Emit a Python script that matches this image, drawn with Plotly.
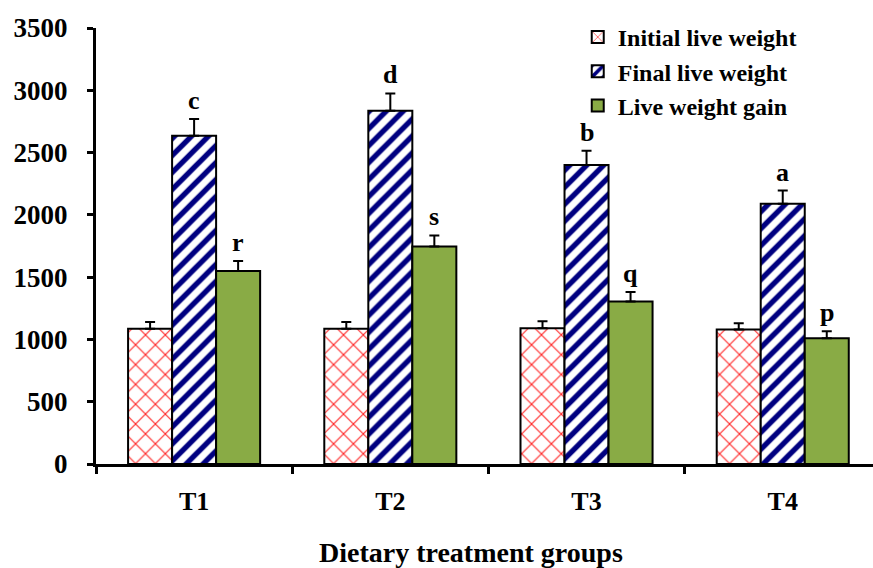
import plotly.graph_objects as go

groups = ["T1", "T2", "T3", "T4"]
initial = [1085, 1085, 1090, 1080]
initial_err = [55, 55, 55, 50]
final = [2635, 2835, 2400, 2090]
final_err = [135, 140, 115, 105]
gain = [1550, 1745, 1305, 1010]
gain_err = [80, 90, 75, 55]
final_letters = ["c", "d", "b", "a"]
gain_letters = ["r", "s", "q", "p"]

FONT = "Liberation Serif"

fig = go.Figure()

def err(vals):
    return dict(type="data", symmetric=False, array=vals, arrayminus=[0]*len(vals),
                color="black", thickness=2, width=5)

fig.add_trace(go.Bar(
    name="<b>Initial live weight</b>", x=groups, y=initial, error_y=err(initial_err),
    marker=dict(color="white", line=dict(color="black", width=2),
                pattern=dict(shape="x", fgcolor="#ff2020", bgcolor="white", size=14,
                             solidity=0.15, fgopacity=1, fillmode="replace")),
))
fig.add_trace(go.Bar(
    name="<b>Final live weight</b>", x=groups, y=final, error_y=err(final_err),
    marker=dict(color="white", line=dict(color="black", width=2),
                pattern=dict(shape="/", fgcolor="#000080", bgcolor="white", size=12,
                             solidity=0.45, fgopacity=1, fillmode="replace")),
))
fig.add_trace(go.Bar(
    name="<b>Live weight gain</b>", x=groups, y=gain, error_y=err(gain_err),
    marker=dict(color="#89ab45", line=dict(color="black", width=2)),
))

# significance letters
for g, v, e, t in zip(groups, final, final_err, final_letters):
    fig.add_annotation(x=g, y=v + e, text="<b>%s</b>" % t, showarrow=False,
                       yanchor="bottom", yshift=2, xshift=0,
                       font=dict(family=FONT, size=26, color="black"))
for g, v, e, t in zip(groups, gain, gain_err, gain_letters):
    fig.add_annotation(x=g, y=v + e, text="<b>%s</b>" % t, showarrow=False,
                       yanchor="bottom", yshift=2, xshift=44,
                       font=dict(family=FONT, size=26, color="black"))

fig.add_annotation(xref="paper", yref="paper", x=0.483, y=-0.204,
                   text="<b>Dietary treatment groups</b>", showarrow=False,
                   xanchor="center", yanchor="middle",
                   font=dict(family=FONT, size=28, color="black"))

fig.update_layout(
    width=873, height=568,
    margin=dict(l=96, r=0, t=28, b=104, autoexpand=False),
    paper_bgcolor="white", plot_bgcolor="white",
    barmode="group", bargap=0.327, bargroupgap=0,
    font=dict(family=FONT, color="black"),
    showlegend=True,
    legend=dict(x=0.62, y=1.03, xanchor="left", yanchor="top",
                font=dict(family=FONT, size=24, color="black"),
                bgcolor="rgba(0,0,0,0)", tracegroupgap=0, itemwidth=30),
    xaxis=dict(type="category", range=[-0.5, 3.46], automargin=False,
               showline=True, linecolor="black", linewidth=3,
               ticks="outside", tickson="boundaries", ticklen=7, tickwidth=3, tickcolor="black",
               showgrid=False, ticklabelstandoff=12,
               tickfont=dict(family=FONT, size=26, color="black", weight="bold")),
    yaxis=dict(range=[0, 3500], dtick=500, automargin=False,
               showline=True, linecolor="black", linewidth=3,
               ticks="outside", ticklen=6, tickwidth=3, tickcolor="black",
               showgrid=False, zeroline=False, ticklabelstandoff=14,
               tickfont=dict(family=FONT, size=27, color="black", weight="bold")),
)

fig.write_html("out.html", config={"displayModeBar": False},
               post_script="document.body.style.margin='0';")
